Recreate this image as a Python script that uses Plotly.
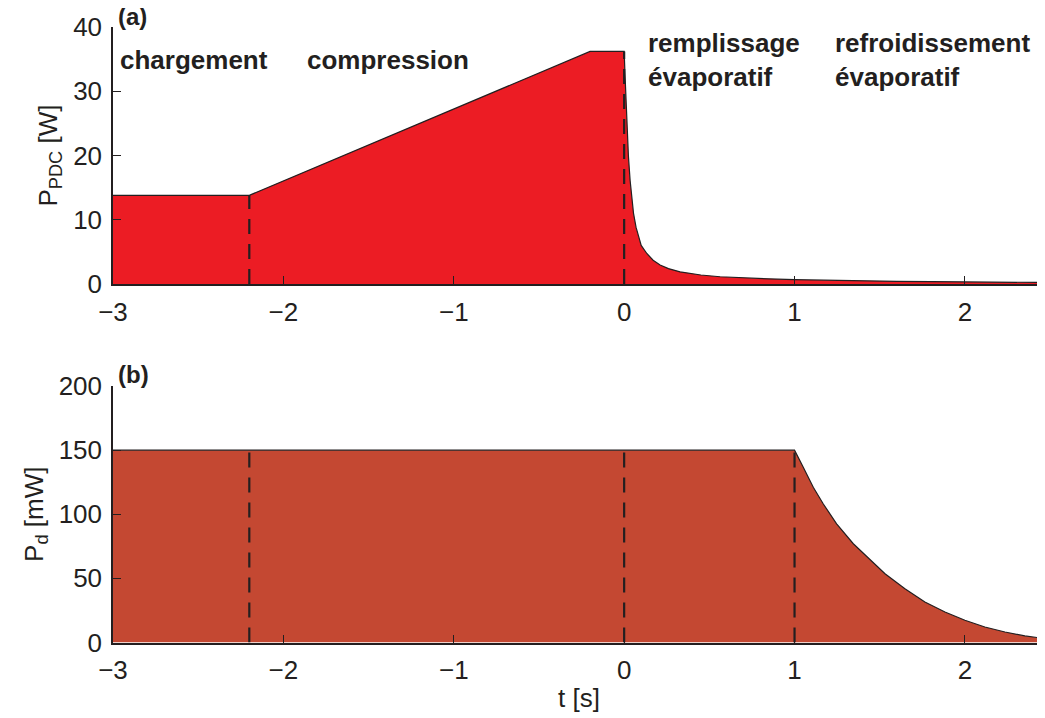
import plotly.graph_objects as go
from plotly.subplots import make_subplots

# (a) power of the PDC [W] vs time [s]
t_a = [-3.0, -2.2, -0.2, 0.0, 0.006, 0.012, 0.025, 0.035, 0.045, 0.055, 0.07,
       0.084, 0.1, 0.133, 0.17, 0.211, 0.26, 0.328, 0.45, 0.563, 0.7, 0.85,
       1.0, 1.3, 1.6, 2.0, 2.47]
p_a = [13.8, 13.8, 36.2, 36.2, 32.0, 27.6, 19.9, 16.1, 13.2, 11.0, 8.8,
       7.3, 6.0, 4.75, 3.7, 2.95, 2.4, 1.9, 1.4, 1.13, 0.95, 0.8,
       0.68, 0.52, 0.42, 0.32, 0.24]

# (b) dissipated power [mW] vs time [s]
t_b = [-3.0, 1.0, 1.052, 1.11, 1.169, 1.247, 1.345, 1.443, 1.531, 1.648,
       1.765, 1.883, 2.0, 2.117, 2.235, 2.352, 2.47]
p_b = [150, 150, 136.4, 121, 108, 92.5, 77, 64.5, 53.6, 42,
       31.5, 23.8, 17.3, 12.1, 8.2, 5.1, 3.1]

# phase boundaries (dashed lines)
bounds_a = [-2.2, 0.0]
tops_a = [13.8, 36.2]
bounds_b = [-2.2, 0.0, 1.0]
tops_b = [150, 150, 150]

x_ticks = [-3, -2, -1, 0, 1, 2]
ya_ticks = [0, 10, 20, 30, 40]
yb_ticks = [0, 50, 100, 150, 200]

FONT = "Liberation Sans, Arial, sans-serif"
INK = "#231f20"
W, H = 1037, 710   # page adds an 8px body margin

fig = make_subplots(rows=2, cols=1)

fig.add_trace(go.Scatter(x=t_a, y=p_a, mode="lines", fill="tozeroy",
                         fillcolor="#ec1c24", line=dict(color=INK, width=1.2)),
              row=1, col=1)
for xv, yv in zip(bounds_a, tops_a):
    fig.add_trace(go.Scatter(x=[xv, xv], y=[0, yv], mode="lines",
                             line=dict(color=INK, width=2.2, dash="15px,10px")),
                  row=1, col=1)

fig.add_trace(go.Scatter(x=t_b, y=p_b, mode="lines", fill="tozeroy",
                         fillcolor="#c44832", line=dict(color=INK, width=1.2)),
              row=2, col=1)
for xv, yv in zip(bounds_b, tops_b):
    fig.add_trace(go.Scatter(x=[xv, xv], y=[0, yv], mode="lines",
                             line=dict(color=INK, width=2.2, dash="15px,10px")),
                  row=2, col=1)

axis_common = dict(showline=True, linecolor=INK, linewidth=1.5, ticks="inside",
                   ticklen=8, tickwidth=1.2, tickcolor=INK, showgrid=False,
                   zeroline=False, tickfont=dict(family=FONT, size=26, color=INK),
                   ticklabelstandoff=4, automargin=False)

fig.update_xaxes(range=[-3, 2.47], tickvals=x_ticks, domain=[105 / W, 1.0],
                 **axis_common)
fig.update_yaxes(**axis_common)
fig.update_yaxes(range=[0, 40], tickvals=ya_ticks,
                 domain=[1 - 276 / H, 1 - 19 / H],
                 title=dict(text="P<sub>PDC</sub> [W]", standoff=8,
                            font=dict(family=FONT, size=26, color=INK)),
                 row=1, col=1)
fig.update_yaxes(range=[0, 200], tickvals=yb_ticks,
                 domain=[1 - 634.5 / H, 1 - 378 / H],
                 title=dict(text="P<sub>d</sub> [mW]", standoff=8,
                            font=dict(family=FONT, size=26, color=INK)),
                 row=2, col=1)
fig.update_xaxes(title=dict(text="t [s]", standoff=4,
                            font=dict(family=FONT, size=26, color=INK)),
                 row=2, col=1)

labels = [
    ("<b>(a)</b>", 116, 17, 24),
    ("<b>chargement</b>", 118, 60, 26),
    ("<b>compression</b>", 305, 60, 26),
    ("<b>remplissage<br>évaporatif</b>", 646, 60, 26),
    ("<b>refroidissement<br>évaporatif</b>", 833, 60, 26),
    ("<b>(b)</b>", 116, 374, 24),
]
for text, px_x, px_y, size in labels:
    fig.add_annotation(text=text, xref="paper", yref="paper",
                       x=(px_x - 8) / W, y=1 - (px_y - 8) / H, xanchor="left",
                       yanchor="middle", align="left", showarrow=False,
                       font=dict(family=FONT, size=size, color=INK))

fig.update_layout(width=W, height=H, margin=dict(l=0, r=0, t=0, b=0),
                  plot_bgcolor="white", paper_bgcolor="white", showlegend=False)

fig.write_html("out.html")
